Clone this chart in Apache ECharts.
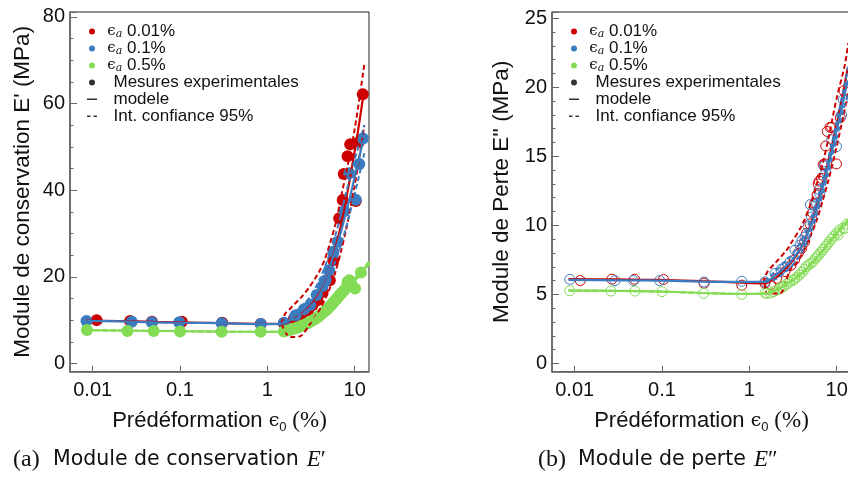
<!DOCTYPE html>
<html><head><meta charset="utf-8">
<script src="https://cdn.jsdelivr.net/npm/echarts@6/dist/echarts.min.js"></script>
<style>html,body{margin:0;padding:0;background:#fff}#c{width:848px;height:481px}</style>
</head><body><div id="c"></div>
<script>
// ---------- Panel (a): storage modulus E' (MPa) ----------
const epRedX = [0.0111, 0.0268, 0.0477, 0.105, 0.304, 0.84, 1.55, 2.02, 2.45, 2.93, 3.3, 3.75, 4.3, 5.2, 5.7, 6.65, 7.3, 7.5, 8.3, 8.9, 10.3, 11.2, 12.4];
const epRedY = [10.0, 9.8, 9.6, 9.6, 9.4, 9.1, 9.3, 10.4, 11.3, 12.3, 13.5, 14.6, 16.5, 19.2, 23.8, 33.5, 37.7, 43.7, 47.8, 50.6, 37.5, 51.1, 62.1];
const epBlueX = [0.0085, 0.028, 0.0477, 0.098, 0.3, 0.84, 1.55, 2.11, 2.63, 3.09, 3.68, 4.3, 4.67, 5.1, 5.7, 6.4, 7.6, 8.7, 10.3, 11.3, 12.4];
const epBlueY = [9.8, 9.6, 9.5, 9.5, 9.3, 9.1, 9.4, 11.1, 12.5, 13.5, 15.8, 17.9, 19.2, 21.5, 25.8, 28.1, 35.2, 43.9, 37.8, 46.0, 51.9];
const epGreenX = [0.0086, 0.025, 0.05, 0.1, 0.3, 0.84, 1.55, 1.7, 1.85, 2.0, 2.15, 2.3, 2.5, 2.7, 2.9, 3.1, 3.35, 3.6, 3.85, 4.1, 4.4, 4.7, 5.0, 5.3, 5.6, 5.9, 6.2, 6.5, 6.85, 7.2, 7.6, 8.0, 8.3, 8.7, 9.05, 10.1, 11.8];
const epGreenY = [7.7, 7.5, 7.5, 7.4, 7.3, 7.3, 7.4, 7.6, 7.8, 8.0, 8.2, 8.4, 8.7, 9.0, 9.3, 9.6, 10.0, 10.4, 10.8, 11.3, 11.8, 12.3, 12.8, 13.3, 13.9, 14.4, 14.9, 15.4, 15.9, 16.4, 16.9, 17.5, 18.8, 19.2, 18.8, 17.3, 21.0];
// model and 95% confidence bounds
const epModX = [0.0085, 0.02, 0.05, 0.1, 0.3, 0.8, 1.55, 2, 2.5, 3, 3.5, 4, 5, 6, 7, 8, 9, 10, 11, 12.5];
const epRedMod = [9.9, 9.8, 9.6, 9.5, 9.3, 9.15, 9.1, 10.6, 11.9, 13.3, 15, 17, 21.5, 26.5, 32, 38, 43.5, 49, 54, 61.5];
const epBlueMod = [9.8, 9.7, 9.5, 9.4, 9.3, 9.1, 9.2, 10.8, 12.2, 13.7, 15.5, 17.3, 21.5, 26, 30.5, 35, 39, 43, 46.5, 51.5];
const epRedUpX = [1.45, 1.6, 1.8, 2, 2.5, 3, 3.5, 4, 4.5, 5, 6, 7, 8, 10, 12.9];
const epRedUpY = [9.2, 11.5, 12.5, 13.5, 15.5, 17.5, 19.5, 21.5, 23.8, 26.5, 32, 38.5, 44, 54, 69];
const epRedLoX = [1.45, 1.7, 1.9, 2.4, 3, 4, 5, 6, 7, 8, 10, 12.9];
const epRedLoY = [9.1, 6.5, 6.1, 6.3, 8.8, 12.5, 16.5, 21, 26, 31, 41, 55];
const epBlueCiX = [1.5, 2, 3, 4, 5, 6, 7, 8, 10, 12.9];
const epBlueUpY = [9.4, 11.6, 15, 19.5, 24.5, 29.5, 34.5, 39.5, 47, 55];
const epBlueLoY = [9.3, 10.3, 12.8, 16, 19.5, 23.5, 27.5, 31.5, 39, 48.5];
const epGreenModX = [0.0085, 0.03, 0.1, 0.3, 0.8, 1.55, 2, 3, 4, 5, 6, 7, 8, 9, 10, 12, 15];
const epGreenMod = [7.7, 7.55, 7.45, 7.35, 7.3, 7.35, 8.0, 9.7, 11.2, 12.8, 14.3, 15.7, 17.0, 18.2, 19.3, 21.2, 23.4];
const epGreenUp = [7.7, 7.55, 7.45, 7.35, 7.3, 7.4, 8.1, 9.85, 11.4, 13.0, 14.5, 15.9, 17.25, 18.45, 19.6, 21.5, 23.8];
const epGreenLo = [7.7, 7.55, 7.45, 7.35, 7.3, 7.3, 7.9, 9.55, 11.0, 12.6, 14.1, 15.5, 16.75, 17.95, 19.0, 20.9, 23.0];

// ---------- Panel (b): loss modulus E'' (MPa) ----------
const eppRedX = [0.0116, 0.0267, 0.0485, 0.104, 0.303, 0.82, 1.51, 1.75, 2.06, 2.56, 3.0, 3.3, 3.63, 3.97, 4.3, 4.53, 4.94, 5.3, 5.63, 5.98, 6.15, 6.3, 6.7, 7.0, 7.33, 7.5, 7.8, 8.4, 8.76, 9.96, 11.0, 12.1];
const eppRedY = [6.0, 6.1, 6.1, 6.08, 5.8, 5.67, 5.8, 5.7, 6.16, 6.65, 7.1, 7.5, 7.97, 8.33, 8.8, 9.42, 10.1, 10.9, 11.6, 12.2, 13.0, 13.2, 13.4, 14.4, 14.44, 15.75, 16.8, 17.1, 17.1, 14.45, 17.8, 19.75];
const eppBlueX = [0.0088, 0.029, 0.047, 0.094, 0.303, 0.82, 1.51, 1.97, 2.3, 2.56, 2.92, 3.33, 3.8, 4.0, 4.33, 4.7, 5.0, 5.16, 5.6, 5.89, 6.3, 6.42, 7.2, 7.5, 8.76, 9.96, 11.4, 11.9];
const eppBlueY = [6.09, 6.0, 6.0, 6.0, 5.9, 5.95, 5.91, 6.52, 6.8, 7.0, 7.36, 8.2, 8.57, 8.9, 9.17, 9.9, 11.5, 10.6, 11.4, 11.6, 12.6, 12.3, 14.3, 13.9, 16.2, 15.7, 18.0, 19.1];
const eppGreenX = [0.0088, 0.026, 0.049, 0.1, 0.3, 0.82, 1.51, 1.6, 1.75, 1.9, 2.05, 2.2, 2.35, 2.5, 2.7, 2.9, 3.1, 3.3, 3.5, 3.75, 4.0, 4.25, 4.5, 4.8, 5.1, 5.4, 5.7, 6.0, 6.3, 6.6, 7.0, 7.4, 7.8, 8.2, 8.7, 9.2, 9.96, 10.4, 10.8, 11.8, 12.4, 13.2];
const eppGreenY = [5.26, 5.24, 5.24, 5.2, 5.07, 5.0, 5.1, 5.07, 5.1, 5.2, 5.3, 5.4, 5.5, 5.6, 5.75, 5.9, 6.0, 6.1, 6.25, 6.4, 6.6, 6.8, 7.0, 7.15, 7.25, 7.4, 7.6, 7.75, 7.9, 8.05, 8.25, 8.45, 8.6, 8.8, 9.0, 9.2, 9.42, 9.3, 9.66, 9.8, 9.78, 10.1];
const eppModX = [0.0085, 0.03, 0.1, 0.3, 0.8, 1.5, 2, 2.5, 3, 3.5, 4, 5, 6, 7, 8, 9, 10, 11, 12, 13.4];
const eppRedMod = [6.1, 6.08, 6.05, 5.95, 5.85, 5.8, 6.2, 6.75, 7.3, 7.9, 8.5, 10.0, 11.6, 13.1, 14.6, 16.0, 17.3, 18.6, 19.8, 21.4];
const eppBlueMod = [6.05, 6.02, 6.0, 5.93, 5.9, 5.9, 6.4, 6.9, 7.4, 7.95, 8.5, 9.9, 11.4, 12.9, 14.3, 15.6, 16.9, 18.0, 19.1, 20.5];
const eppRedUpX = [1.45, 1.6, 2, 2.67, 3, 4, 5, 6, 7, 8, 10, 12.4, 13.6];
const eppRedUpY = [5.85, 6.6, 7.3, 8.2, 8.7, 10.0, 11.5, 13.1, 14.6, 16.2, 19.2, 21.6, 23.2];
const eppRedLoX = [1.5, 1.6, 2.24, 2.92, 3.5, 4, 5, 6, 7, 8, 10, 12, 13.6];
const eppRedLoY = [5.8, 5.07, 5.07, 6.76, 7.3, 7.9, 9.2, 10.5, 11.9, 13.2, 15.7, 18.0, 19.6];
const eppBlueCiX = [1.5, 2, 3, 4, 5, 6, 7, 8, 10, 12, 13.6];
const eppBlueUpY = [5.9, 6.7, 7.8, 8.95, 10.4, 11.9, 13.4, 14.8, 17.5, 19.8, 21.5];
const eppBlueLoY = [5.9, 6.1, 7.0, 8.05, 9.4, 10.9, 12.4, 13.8, 16.3, 18.4, 19.6];
const eppGreenModX = [0.0085, 0.03, 0.1, 0.3, 0.8, 1.5, 2, 3, 4, 5, 6, 7, 8, 10, 12, 14.6];
const eppGreenMod = [5.28, 5.25, 5.2, 5.1, 5.03, 5.05, 5.3, 5.95, 6.55, 7.15, 7.7, 8.2, 8.7, 9.4, 9.95, 10.6];
const eppGreenUp = [5.28, 5.25, 5.2, 5.1, 5.03, 5.08, 5.38, 6.03, 6.63, 7.23, 7.78, 8.28, 8.78, 9.5, 10.05, 10.7];
const eppGreenLo = [5.28, 5.25, 5.2, 5.1, 5.03, 5.02, 5.22, 5.87, 6.47, 7.07, 7.62, 8.12, 8.62, 9.3, 9.85, 10.5];

// axis tick labels / legend texts
const xTickLabels = ['0.01', '0.1', '1', '10'];
const legendNames = ['ea001', 'ea01', 'ea05', 'mes', 'mod', 'ic'];
const legendLabels = {ea001: '0.01%', ea01: '0.1%', ea05: '0.5%', mes: 'Mesures experimentales', mod: 'modele', ic: 'Int. confiance 95%'};

const RED = '#cc0000', BLUE = '#3b7cc0', GREEN = '#84dc55';
const zip = (xs, ys) => xs.map((x, i) => [x, ys[i]]);

const chart = echarts.init(document.getElementById('c'), null, {renderer: 'canvas'});

const labelFont = {color: '#111', fontFamily: 'Liberation Sans', fontSize: 20};
const nameRich = {
  t: {fontFamily: 'Liberation Sans', fontSize: 22, color: '#111', lineHeight: 26},
  e: {fontFamily: 'DejaVu Serif', fontSize: 19, color: '#111', lineHeight: 26},
  s: {fontFamily: 'Liberation Sans', fontSize: 13, color: '#111', lineHeight: 15, verticalAlign: 'bottom'},
  p: {fontFamily: 'Liberation Serif', fontSize: 23, color: '#111', lineHeight: 26}
};
const xNameText = '{t|Prédéformation }{e|ϵ}{s|0}{p| (%)}';
const xTickSet = new Set(xTickLabels);

function xAxis(gi) {
  return {
    type: 'log', logBase: 10, gridIndex: gi, min: 0.0055, max: 14.6,
    name: xNameText, nameLocation: 'middle', nameGap: 36,
    nameTextStyle: {rich: nameRich},
    axisLine: {show: true, onZero: false, lineStyle: {color: '#666', width: 1.5}},
    axisTick: {show: true, inside: true, length: 6, lineStyle: {color: '#666', width: 1}},
    minorTick: {show: false},
    splitLine: {show: false},
    axisLabel: {...labelFont, margin: 9, showMinLabel: false, showMaxLabel: false,
      formatter: v => { const s = String(+v.toPrecision(3)); return xTickSet.has(s) ? s : ''; }}
  };
}
function yAxis(gi, min, max, name, minorSplit, gap) {
  return {
    type: 'value', gridIndex: gi, min: min, max: max,
    name: name, nameLocation: 'middle', nameGap: gap,
    nameTextStyle: {color: '#111', fontFamily: 'Liberation Sans', fontSize: 22.5},
    axisLine: {show: true, onZero: false, lineStyle: {color: '#666', width: 1.5}},
    axisTick: {show: true, inside: true, length: 7, lineStyle: {color: '#666', width: 1}},
    minorTick: {show: true, splitNumber: minorSplit, length: 3.5, lineStyle: {color: '#666', width: 1}},
    splitLine: {show: false}, minorSplitLine: {show: false},
    axisLabel: {...labelFont, margin: 5, showMinLabel: false, showMaxLabel: false}
  };
}

const series = [];
function scat(name, gi, xs, ys, color, filled) {
  series.push({
    name: name, type: 'scatter', xAxisIndex: gi, yAxisIndex: gi, data: zip(xs, ys),
    symbol: 'circle', symbolSize: filled ? 12 : 10,
    itemStyle: filled ? {color: color, opacity: 1} : {color: 'rgba(0,0,0,0)', borderColor: color, borderWidth: 1, opacity: 1},
    emphasis: {disabled: true}, silent: true
  });
}
function line(name, gi, xs, ys, color, dashed) {
  series.push({
    name: name, type: 'line', xAxisIndex: gi, yAxisIndex: gi, data: zip(xs, ys),
    symbol: 'none', smooth: 0.3, color: color,
    lineStyle: {color: color, width: dashed ? 2 : 2.2, type: dashed ? [5, 3] : 'solid'},
    emphasis: {disabled: true}, silent: true
  });
}

// Panel a
line('ea001 model a', 0, epModX, epRedMod, RED, false);
line('ea001 up a', 0, epRedUpX, epRedUpY, RED, true);
line('ea001 lo a', 0, epRedLoX, epRedLoY, RED, true);
scat('ea001', 0, epRedX, epRedY, RED, true);
line('ea01 model a', 0, epModX, epBlueMod, BLUE, false);
line('ea01 up a', 0, epBlueCiX, epBlueUpY, BLUE, true);
line('ea01 lo a', 0, epBlueCiX, epBlueLoY, BLUE, true);
scat('ea01', 0, epBlueX, epBlueY, BLUE, true);
line('ea05 up a', 0, epGreenModX, epGreenUp, GREEN, true);
line('ea05 lo a', 0, epGreenModX, epGreenLo, GREEN, true);
line('ea05 model a', 0, epGreenModX, epGreenMod, GREEN, false);
scat('ea05', 0, epGreenX, epGreenY, GREEN, true);
// Panel b
scat('ea001 b', 1, eppRedX, eppRedY, RED, false);
line('ea001 model b', 1, eppModX, eppRedMod, RED, false);
line('ea001 up b', 1, eppRedUpX, eppRedUpY, RED, true);
line('ea001 lo b', 1, eppRedLoX, eppRedLoY, RED, true);
scat('ea01 b', 1, eppBlueX, eppBlueY, BLUE, false);
line('ea01 model b', 1, eppModX, eppBlueMod, BLUE, false);
line('ea01 up b', 1, eppBlueCiX, eppBlueUpY, BLUE, true);
line('ea01 lo b', 1, eppBlueCiX, eppBlueLoY, BLUE, true);
scat('ea05 b', 1, eppGreenX, eppGreenY, GREEN, false);
line('ea05 up b', 1, eppGreenModX, eppGreenUp, GREEN, true);
line('ea05 lo b', 1, eppGreenModX, eppGreenLo, GREEN, true);
line('ea05 model b', 1, eppGreenModX, eppGreenMod, GREEN, false);
// legend-only entries
series.push({name: 'mes', type: 'scatter', data: [], symbol: 'circle', itemStyle: {color: '#000'}});
series.push({name: 'mod', type: 'scatter', data: [], symbol: 'circle', itemStyle: {color: '#000'}});
series.push({name: 'ic', type: 'scatter', data: [], symbol: 'circle', itemStyle: {color: '#000'}});

const ICON_SOLID = 'path://M0,2L10,2L10,3.6L0,3.6Z M0,0L0.01,0L0.01,6L0,6Z';
const ICON_DASH = 'path://M0,2L3.5,2L3.5,3.6L0,3.6Z M6.5,2L10,2L10,3.6L6.5,3.6Z M0,0L0.01,0L0.01,6L0,6Z';
const legendRich = {
  e: {fontFamily: 'DejaVu Serif', fontSize: 15, color: '#111', lineHeight: 16},
  s: {fontFamily: 'DejaVu Serif', fontStyle: 'italic', fontSize: 11, color: '#111', lineHeight: 10, verticalAlign: 'bottom'},
  t: {fontFamily: 'Liberation Sans', fontSize: 17, color: '#111', lineHeight: 16},
  u: {fontFamily: 'Liberation Sans', fontSize: 17, color: '#111', lineHeight: 16, padding: [0, 0, 0, 11]}
};
function legend(left) {
  return {
    left: left, top: 23, orient: 'vertical', itemGap: 0, itemWidth: 11, itemHeight: 6,
    selectedMode: false, padding: 0,
    data: legendNames.map(n => ({name: n, icon: n === 'mod' ? ICON_SOLID : (n === 'ic' ? ICON_DASH : 'circle')})),
    formatter: n => (n.startsWith('ea') ? '{e| ϵ}{s|a}{t| ' + legendLabels[n] + '}' : '{u|' + legendLabels[n] + '}'),
    textStyle: {rich: legendRich}
  };
}

const capRich = {
  p: {fontFamily: 'Liberation Serif', fontSize: 24, color: '#111', fontWeight: 'normal', width: 40, lineHeight: 26},
  s: {fontFamily: 'DejaVu Sans', fontSize: 20.5, color: '#111', fontWeight: 'normal', lineHeight: 26},
  g: {width: 8, lineHeight: 26},
  i: {fontFamily: 'Liberation Serif', fontStyle: 'italic', fontSize: 23, color: '#111', fontWeight: 'normal', lineHeight: 26},
  q: {fontFamily: 'Liberation Serif', fontSize: 23, color: '#111', fontWeight: 'normal', lineHeight: 26}
};

chart.setOption({
  animation: false,
  backgroundColor: '#fff',
  grid: [
    {left: 70, top: 12, width: 299, height: 359.7, show: true, borderColor: '#222', borderWidth: 1, containLabel: false, outerBoundsMode: 'none'},
    {left: 552, top: 12, width: 299, height: 359.7, show: true, borderColor: '#222', borderWidth: 1, containLabel: false, outerBoundsMode: 'none'}
  ],
  xAxis: [xAxis(0), xAxis(1)],
  yAxis: [yAxis(0, -1.9, 81.1, "Module de conservation E' (MPa)", 4, 36), yAxis(1, -0.6, 25.45, "Module de Perte E'' (MPa)", 5, 39)],
  legend: [legend(87), legend(569)],
  title: [
    {left: 13, top: 447, padding: 0, text: '{p|(a)}{s|Module de conservation}{g|}{i|E}{q|′}', textStyle: {fontWeight: 'normal', rich: capRich}},
    {left: 538, top: 447, padding: 0, text: '{p|(b)}{s|Module de perte}{g|}{i|E}{q|″}', textStyle: {fontWeight: 'normal', rich: capRich}}
  ],
  series: series
});
</script></body></html>
